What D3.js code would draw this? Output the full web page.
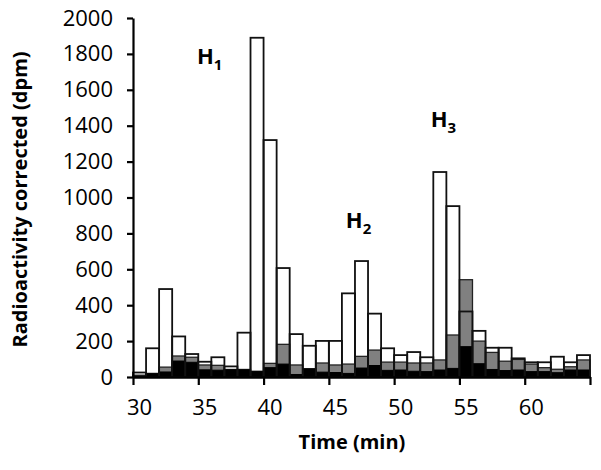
<!DOCTYPE html>
<html>
<head>
<meta charset="utf-8">
<script src="https://cdn.jsdelivr.net/npm/d3@7"></script>
<style>
  body { margin: 0; background: #fff; }
  svg { display: block; }
  text { font-family: "Open Sans", "Liberation Sans", sans-serif; }
</style>
</head>
<body>
<svg id="chart" width="601" height="470"></svg>
<script>
// time bins (min)
const minutes = d3.range(30, 65);
// white bars (outline only)
const whiteVals = [25, 160, 490, 226, 128, 85, 110, 59, 247, 1890,
  1320, 607, 239, 174, 201, 201, 466, 646, 353, 160,
  122, 139, 110, 1142, 952, 365, 257, 163, 163, 104,
  82, 82, 113, 82, 122];
// grey bars
const greyVals = [10, 20, 55, 117, 110, 67, 65, 42, 42, 32,
  76, 182, 67, 46, 78, 67, 72, 115, 150, 83,
  83, 78, 78, 95, 234, 542, 200, 137, 88, 98,
  72, 52, 43, 57, 95];
// black bars
const blackVals = [5, 18, 28, 89, 82, 40, 38, 40, 40, 30,
  52, 72, 14, 45, 27, 25, 20, 50, 64, 37,
  39, 32, 30, 39, 48, 169, 74, 42, 36, 39,
  30, 30, 24, 39, 39];
const yTicks = d3.range(0, 2001, 200);
const xTickLabels = [30, 35, 40, 45, 50, 55, 60];
const peaks = [
  { label: "H", sub: "1", x: 34.9, y: 1745 },
  { label: "H", sub: "2", x: 46.3, y: 830 },
  { label: "H", sub: "3", x: 52.8, y: 1395 }
];

const svg = d3.select("#chart");
const x0 = 133, x1 = 590, yTop = 18, yBot = 377;

const x = d3.scaleBand().domain(minutes).range([x0, x1]).padding(0);
const xLin = d3.scaleLinear().domain([30, 65]).range([x0, x1]);
const y = d3.scaleLinear().domain([0, 2000]).range([yBot, yTop]);

const rows = minutes.map((m, i) => ({ m, w: whiteVals[i], g: greyVals[i], b: blackVals[i] }));

const bars = svg.append("g");
// grey first, black over it, white outlines on top
bars.selectAll(".grey").data(rows).join("rect")
  .attr("class", "grey")
  .attr("x", d => x(d.m))
  .attr("width", x.bandwidth())
  .attr("y", d => y(d.g))
  .attr("height", d => yBot - y(d.g))
  .attr("fill", "#808080")
  .attr("stroke", "#222")
  .attr("stroke-width", 1.3);

bars.selectAll(".black").data(rows).join("rect")
  .attr("class", "black")
  .attr("x", d => x(d.m))
  .attr("width", x.bandwidth())
  .attr("y", d => y(d.b))
  .attr("height", d => yBot - y(d.b))
  .attr("fill", "#000")
  .attr("stroke", "#000")
  .attr("stroke-width", 1);

bars.selectAll(".white").data(rows).join("rect")
  .attr("class", "white")
  .attr("x", d => x(d.m))
  .attr("width", x.bandwidth())
  .attr("y", d => y(d.w))
  .attr("height", d => yBot - y(d.w))
  .attr("fill", "none")
  .attr("stroke", "#111")
  .attr("stroke-width", 1.8);

// y axis
const yAxis = svg.append("g")
  .attr("transform", `translate(${x0},0)`)
  .call(d3.axisLeft(y).tickValues(yTicks).tickFormat(d3.format("d"))
    .tickSize(6).tickPadding(14).tickSizeOuter(0));
yAxis.select(".domain").attr("stroke-width", 2.2);
yAxis.selectAll(".tick line").attr("stroke-width", 2.2);
yAxis.selectAll("text").attr("font-size", 22).attr("fill", "#000");

// x axis: tick marks between bins
const xTicksAxis = svg.append("g")
  .attr("transform", `translate(0,${yBot})`)
  .call(d3.axisBottom(xLin).tickValues(d3.range(30, 66, 5)).tickSize(8).tickSizeOuter(0).tickFormat(""));
xTicksAxis.select(".domain").attr("stroke-width", 2.4);
xTicksAxis.selectAll(".tick line").attr("stroke-width", 2.2);

// x labels centred on bins
const xLabelAxis = svg.append("g")
  .attr("transform", `translate(0,${yBot})`)
  .call(d3.axisBottom(x).tickValues(xTickLabels).tickSize(0).tickPadding(22));
xLabelAxis.select(".domain").remove();
xLabelAxis.selectAll("text").attr("font-size", 22).attr("fill", "#000");

// axis titles
svg.append("text")
  .attr("transform", `translate(27,${(yTop + yBot) / 2 + 2}) rotate(-90)`)
  .attr("text-anchor", "middle")
  .attr("font-size", 20)
  .attr("font-weight", "bold")
  .text("Radioactivity corrected (dpm)");

svg.append("text")
  .attr("x", 352)
  .attr("y", 449)
  .attr("text-anchor", "middle")
  .attr("font-size", 20)
  .attr("font-weight", "bold")
  .text("Time (min)");

// peak labels
const pk = svg.selectAll(".peak").data(peaks).join("text")
  .attr("class", "peak")
  .attr("x", d => xLin(d.x))
  .attr("y", d => y(d.y))
  .attr("font-size", 22)
  .attr("font-weight", "bold");
pk.append("tspan").text(d => d.label);
pk.append("tspan").attr("dy", 6).attr("font-size", 15).text(d => d.sub);
</script>
</body>
</html>
